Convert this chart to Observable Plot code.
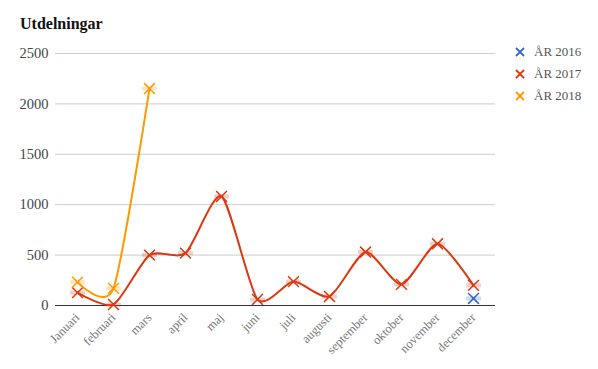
<!DOCTYPE html>
<html><head><meta charset="utf-8">
<script src="https://cdn.jsdelivr.net/npm/d3@7"></script>
<script src="https://cdn.jsdelivr.net/npm/@observablehq/plot@0.6"></script>
<style>
body{margin:0;background:#fff;font-family:"Liberation Serif",serif;}
#wrap{position:relative;width:598px;height:369px;}
#title{position:absolute;left:20px;top:15px;font-weight:bold;font-size:16px;color:#111;font-family:"Liberation Serif",serif;}
#legend{position:absolute;left:514px;top:41px;font-size:13px;color:#555;font-family:"Liberation Serif",serif;}
#legend div{height:22px;display:flex;align-items:center;}
#legend svg{margin-right:8px;}
</style></head><body>
<div id="wrap"><div id="title">Utdelningar</div><div id="legend"></div></div>
<script>
const months = ["Januari","februari","mars","april","maj","juni","juli","augusti","september","oktober","november","december"];
const series = ["ÅR 2016","ÅR 2017","ÅR 2018"];
const colors = ["#3366cc","#dc3912","#ff9900"];
const v2016 = [null,null,null,null,null,null,null,null,null,null,null,70];
const v2017 = [128,10,500,520,1082,60,237,90,530,210,612,200];
const v2018 = [232,170,2152,null,null,null,null,null,null,null,null,null];
const yTicks = [0,500,1000,1500,2000,2500];

const rows = [];
[v2016,v2017,v2018].forEach((vals,i)=>vals.forEach((v,j)=>{ if(v!=null) rows.push({series:series[i],month:months[j],value:v}); }));

const hbar = {draw(ctx,size){const w=Math.sqrt(size)*0.6;ctx.moveTo(-w,0);ctx.lineTo(w,0);}};

const chart = Plot.plot({
  width:598, height:369,
  marginLeft:55, marginRight:103, marginTop:53, marginBottom:64,
  style:{fontFamily:"Liberation Serif, serif", background:"transparent"},
  x:{type:"point", domain:months, padding:0.5, label:null},
  y:{domain:[0,2500], label:null},
  color:{domain:series, range:colors},
  marks:[
    Plot.gridY(yTicks.filter(d=>d>0),{stroke:"#cccccc",strokeOpacity:1}),
    Plot.ruleY([0],{stroke:"#333",strokeWidth:1}),
    Plot.line(rows,{x:"month",y:"value",z:"series",stroke:"series",curve:"cardinal",tension:0.3,strokeWidth:2}),
    Plot.dot(rows,{x:"month",y:"value",stroke:"series",symbol:hbar,r:7,strokeWidth:4,strokeOpacity:0.25}),
    Plot.dot(rows,{x:"month",y:"value",stroke:"series",symbol:"times",r:5,strokeWidth:1.5}),
    Plot.axisY({ticks:yTicks,tickFormat:d3.format("d"),tickSize:0,tickPadding:7,fontSize:14.5,fill:"#444",label:null}),
    Plot.axisX({tickSize:0,tickPadding:10,tickRotate:-45,fontSize:12.5,fill:"#777",label:null})
  ]
});
document.getElementById("wrap").appendChild(chart);
chart.style.position="absolute";chart.style.left="0";chart.style.top="0";
const lg=document.getElementById("legend");
series.forEach((s,i)=>{
  const d=document.createElement("div");
  d.innerHTML=`<svg width="12" height="12"><path d="M2,2L10,10M10,2L2,10" stroke="${colors[i]}" stroke-width="1.8"/></svg><span>${s}</span>`;
  lg.appendChild(d);
});
document.getElementById("title").style.zIndex=2;lg.style.zIndex=2;
</script></body></html>
